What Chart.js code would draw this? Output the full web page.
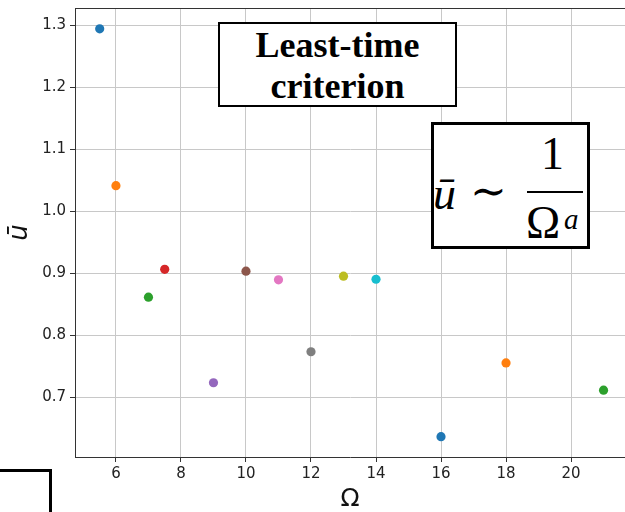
<!DOCTYPE html>
<html>
<head>
<meta charset="utf-8">
<script src="https://cdn.jsdelivr.net/npm/chart.js@4/dist/chart.umd.min.js"></script>
<style>
  html, body { margin: 0; padding: 0; background: #fff; }
  #wrap { position: relative; width: 625px; height: 512px; overflow: hidden; }
  #chart { position: absolute; left: 0; top: 0; }
  .box { position: absolute; background: #fff; border: 2px solid #000; box-sizing: border-box; }
  #title-box {
    left: 218px; top: 22px; width: 239px; height: 85px;
    font-family: "Liberation Serif", "Times New Roman", serif; font-weight: bold;
    font-size: 36px; line-height: 41px; text-align: center; padding-top: 1px;
  }
  #formula-box { left: 431px; top: 122px; width: 159px; height: 127px; border-width: 3px; }
  #formula-box span { position: absolute; font-family: "Liberation Serif", "DejaVu Serif", serif; white-space: nowrap; }
  #frac-bar { position: absolute; left: 93px; top: 66px; width: 56px; height: 2px; background: #000; }
  #corner-box { left: -10px; top: 469px; width: 62px; height: 100px; border-width: 3px; }
</style>
</head>
<body>
<div id="wrap">
  <canvas id="chart" width="625" height="512"></canvas>
  <div class="box" id="title-box">Least-time<br>criterion</div>
  <div class="box" id="formula-box">
    <span style="left:-1px; top:42px; font-size:46px; font-style:italic;">&#363;</span>
    <span style="left:36px; top:40px; font-size:44px;">&#8764;</span>
    <span style="left:107px; top:2px; font-size:46px;">1</span>
    <span style="left:92px; top:71px; font-size:46px;">&#937;</span>
    <span style="left:130px; top:78px; font-size:29px; font-style:italic;">a</span>
    <div id="frac-bar"></div>
  </div>
  <div class="box" id="corner-box"></div>
</div>
<script>
"use strict";

// data
var OMEGA = [5.5, 6, 7, 7.5, 9, 10, 11, 12, 13, 14, 16, 18, 21];
var U_BAR = [1.294, 1.041, 0.861, 0.906, 0.723, 0.903, 0.889, 0.773, 0.895, 0.890, 0.636, 0.755, 0.711];
var POINT_COLORS = ["#1f77b4", "#ff7f0e", "#2ca02c", "#d62728", "#9467bd", "#8c564b",
  "#e377c2", "#7f7f7f", "#bcbd22", "#17becf", "#1f77b4", "#ff7f0e", "#2ca02c"];
var X_TICKS = [6, 8, 10, 12, 14, 16, 18, 20];
var Y_TICKS = [0.7, 0.8, 0.9, 1.0, 1.1, 1.2, 1.3];

var points = OMEGA.map(function (x, i) { return { x: x, y: U_BAR[i] }; });

var tickFont = { family: "DejaVu Sans", size: 15 };

// top spine (matplotlib box)
var topSpine = {
  id: "topSpine",
  afterDraw: function (chart) {
    var a = chart.chartArea, ctx = chart.ctx;
    ctx.save();
    ctx.strokeStyle = "#333";
    ctx.lineWidth = 1;
    ctx.beginPath();
    ctx.moveTo(a.left, a.top + 0.5);
    ctx.lineTo(a.right, a.top + 0.5);
    ctx.stroke();
    ctx.restore();
  },
};

new Chart(document.getElementById("chart"), {
  type: "scatter",
  data: {
    datasets: [{
      data: points,
      pointBackgroundColor: POINT_COLORS,
      pointBorderWidth: 0,
      pointRadius: 4.6,
    }],
  },
  options: {
    responsive: false, animation: false,
    layout: { autoPadding: false, padding: { top: 8, right: 0, bottom: 0, left: 0 } },
    plugins: { legend: { display: false }, tooltip: { enabled: false } },
    scales: {
      x: {
        type: "linear", min: 4.74, max: 21.66,
        afterBuildTicks: function (s) { s.ticks = X_TICKS.map(function (v) { return { value: v }; }); },
        afterFit: function (s) { s.height = 55; s.paddingLeft = 0; s.paddingRight = 0; },
        ticks: { font: tickFont, color: "#222", padding: 3, maxRotation: 0 },
        grid: { color: "#c8c8c8", lineWidth: 1, tickLength: 5, tickColor: "#333" },
        border: { color: "#333", width: 1 },
        title: { display: true, text: "Ω", font: { family: "DejaVu Sans", size: 25, lineHeight: 1 }, color: "#111", padding: { top: 0, bottom: 0 } },
      },
      y: {
        type: "linear", min: 0.6032, max: 1.3276,
        afterBuildTicks: function (s) { s.ticks = Y_TICKS.map(function (v) { return { value: v }; }); },
        afterFit: function (s) { s.width = 75; s.paddingTop = 0; s.paddingBottom = 0; },
        ticks: { font: tickFont, color: "#222", padding: 4, callback: function (v) { return v.toFixed(1); } },
        grid: { color: "#c8c8c8", lineWidth: 1, tickLength: 5, tickColor: "#333" },
        border: { color: "#333", width: 1 },
        title: { display: true, text: "ū", font: { family: "DejaVu Sans", size: 26, style: "italic", lineHeight: 1 }, color: "#111", padding: { top: 7, bottom: 0 } },
      },
    },
  },
  plugins: [topSpine],
});
</script>
</body>
</html>
